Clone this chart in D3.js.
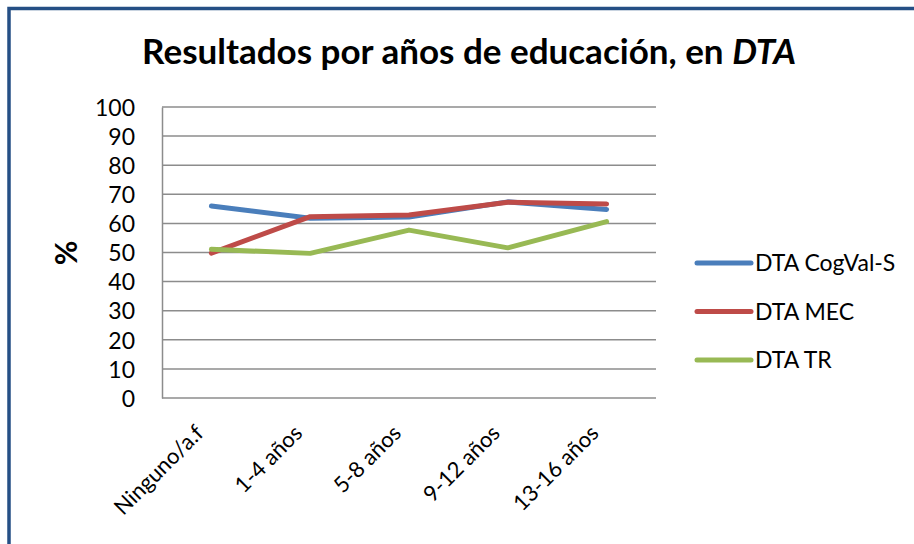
<!DOCTYPE html>
<html>
<head>
<meta charset="utf-8">
<script src="https://cdn.jsdelivr.net/npm/d3@7"></script>
<style>
  html, body { margin: 0; padding: 0; background: #fff; }
  svg { display: block; }
  text { font-family: Lato, "Open Sans", sans-serif; fill: #000; }
</style>
</head>
<body>
<script>
// Chart data
const categories = ["Ninguno/a.f", "1-4 años", "5-8 años", "9-12 años", "13-16 años"];
const seriesNames = ["DTA CogVal-S", "DTA MEC", "DTA TR"];
const cogvalValues = [66.0, 61.8, 62.2, 67.4, 64.8];
const mecValues = [49.8, 62.3, 62.9, 67.3, 66.7];
const trValues = [51.1, 49.7, 57.7, 51.6, 60.6];
const yTicks = [0, 10, 20, 30, 40, 50, 60, 70, 80, 90, 100];
const seriesColors = ["#4A7EBB", "#BE4B48", "#98B954"];

const W = 914, H = 544;
const plot = { left: 162, right: 656, top: 107, bottom: 398 };

const svg = d3.select("body").append("svg")
  .attr("width", W).attr("height", H);

// Frame around the chart
svg.append("rect")
  .attr("x", 9).attr("y", 8.5)
  .attr("width", W + 20).attr("height", H + 20)
  .attr("fill", "#fff")
  .attr("stroke", "#254F85").attr("stroke-width", 3.5);

// Title (regular text with an italic run)
const title = svg.append("text")
  .attr("x", 469).attr("y", 64)
  .attr("text-anchor", "middle")
  .style("font-size", "35px").style("font-weight", "bold");
title.append("tspan").text("Resultados por años de educación, en ");
title.append("tspan").style("font-style", "italic").text("DTA");

const x = d3.scalePoint().domain(categories)
  .range([plot.left, plot.right]).padding(0.5);
const y = d3.scaleLinear().domain([0, 100])
  .range([plot.bottom, plot.top]);

// Horizontal gridlines
svg.append("g").selectAll("line").data(yTicks.filter(d => d > 0)).join("line")
  .attr("x1", plot.left).attr("x2", plot.right)
  .attr("y1", d => y(d)).attr("y2", d => y(d))
  .attr("stroke", "#8C8C8C").attr("stroke-width", 1.5);

// Y axis
const yAxis = svg.append("g")
  .attr("transform", `translate(${plot.left},0)`)
  .call(d3.axisLeft(y).tickValues(yTicks).tickSize(0).tickPadding(27));
yAxis.select(".domain").attr("stroke", "#8C8C8C").attr("stroke-width", 1.5);
yAxis.selectAll("text").style("font-size", "23px").attr("dy", "0.36em");

// X axis baseline
svg.append("line")
  .attr("x1", plot.left).attr("x2", plot.right)
  .attr("y1", plot.bottom).attr("y2", plot.bottom)
  .attr("stroke", "#8C8C8C").attr("stroke-width", 1.5);

// Rotated category labels
svg.append("g").selectAll("text").data(categories).join("text")
  .attr("transform", d => `translate(${x(d) - 12},${plot.bottom + 31}) rotate(-45)`)
  .attr("text-anchor", "end")
  .attr("dy", "0.35em")
  .style("font-size", "22px")
  .text(d => d);

// Y axis title
svg.append("text")
  .attr("transform", `translate(77,253) rotate(-90)`)
  .attr("text-anchor", "middle")
  .style("font-size", "30px").style("font-weight", "bold")
  .text("%");

// Lines
const allSeries = [cogvalValues, mecValues, trValues];
const line = d3.line().x((d, i) => x(categories[i])).y(d => y(d));
svg.append("g").selectAll("path").data(allSeries).join("path")
  .attr("d", line)
  .attr("fill", "none")
  .attr("stroke", (d, i) => seriesColors[i])
  .attr("stroke-width", 5)
  .attr("stroke-linecap", "round")
  .attr("stroke-linejoin", "round");

// Legend
const legend = svg.append("g").selectAll("g").data(seriesNames).join("g")
  .attr("transform", (d, i) => `translate(697,${263 + i * 48.5})`);
legend.append("line")
  .attr("x1", 0).attr("x2", 54)
  .attr("stroke", (d, i) => seriesColors[i])
  .attr("stroke-width", 5).attr("stroke-linecap", "round");
legend.append("text")
  .attr("x", 58).attr("dy", "0.36em")
  .style("font-size", "23px")
  .text(d => d);
</script>
</body>
</html>
